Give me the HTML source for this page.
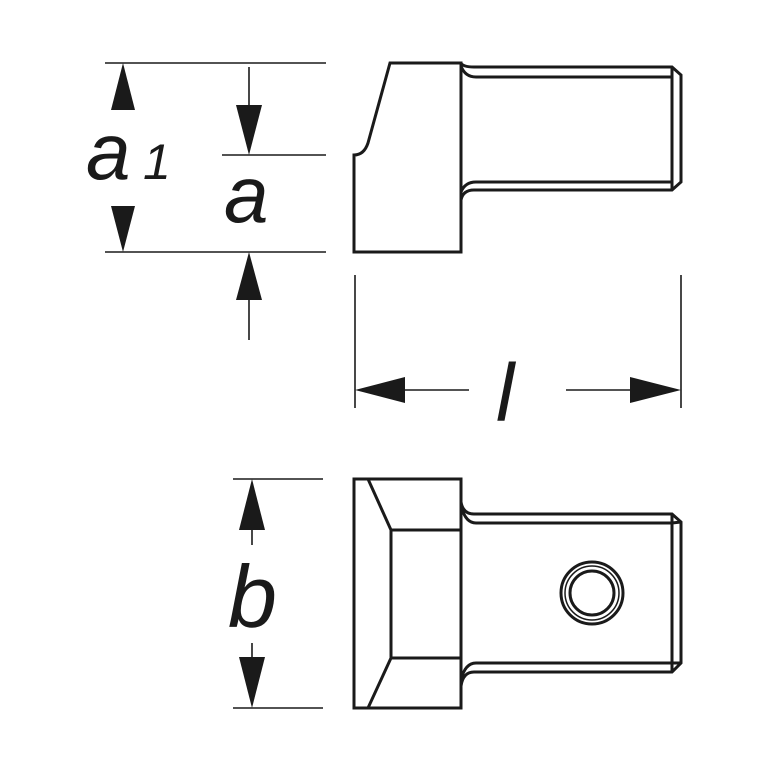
<!DOCTYPE html>
<html><head><style>html,body{margin:0;padding:0;background:#fff}svg{display:block}</style></head>
<body>
<svg width="772" height="772" viewBox="0 0 772 772" xmlns="http://www.w3.org/2000/svg">
<g fill="none" stroke="#1a1a1a" stroke-width="3" stroke-linejoin="miter">
<path d="M390,63 L461,63 L461,252 L354,252 L354,155 Q364,155 368,143 Z"/>
<path d="M461,63 Q463,67 474,67 L672,67 L681,75 L681,182 L672,190 L474,190 Q463,190 461,200"/>
<path d="M461,66 Q465,77 476,77 L672,77 L672,182 L476,182 Q465,182 461,192"/>
<path d="M672,67 L672,77 M672,182 L672,190"/>
<rect x="354" y="479" width="107" height="229"/>
<path d="M368,479 L391,530 L461,530 M391,530 L391,658 L461,658 M391,658 L368,708"/>
<path d="M461,502 Q463,514 474,514 L672,514 L681,522 L681,663 L672,672 L474,672 Q463,672 461,686"/>
<path d="M461,505 Q465,523 476,523 L672,523 L672,663 L476,663 Q465,663 461,680"/>
<path d="M672,514 L672,523 M672,663 L672,672 M672,523 L681,522 M672,663 L681,663"/>
<circle cx="592" cy="593" r="31"/>
<circle cx="592" cy="593" r="27" stroke-width="1.5"/>
<circle cx="592" cy="593" r="22"/>
</g>
<g stroke="#1a1a1a" stroke-width="1.6" fill="none">
<path d="M105,63 H326 M222,155 H326 M105,252 H326"/>
<path d="M249,67 V110 M249,295 V340"/>
<path d="M355,275 V408 M681,275 V408 M400,390 H469 M566,390 H635"/>
<path d="M233,479 H323 M233,708 H323 M252,520 V545 M252,643 V665"/>
</g>
<g fill="#1a1a1a">
<polygon points="123,63 111,110 135,110"/>
<polygon points="123,252 111,206 135,206"/>
<polygon points="249,155 236,105 262,105"/>
<polygon points="249,252 236,300 262,300"/>
<polygon points="355,390 405,377 405,403"/>
<polygon points="681,390 630,377 630,403"/>
<polygon points="252,479 239,530 265,530"/>
<polygon points="252,708 239,657 265,657"/>
</g>
<g fill="#1a1a1a" font-family="Liberation Sans, DejaVu Sans, sans-serif" font-style="italic">
<text x="86" y="179" font-size="80">a</text>
<text x="143" y="179" font-size="50">1</text>
<text x="224" y="222" font-size="80">a</text>
<text x="496" y="421" font-size="82">l</text>
<text x="228" y="627" font-size="88">b</text>
</g>
</svg>
</body></html>
